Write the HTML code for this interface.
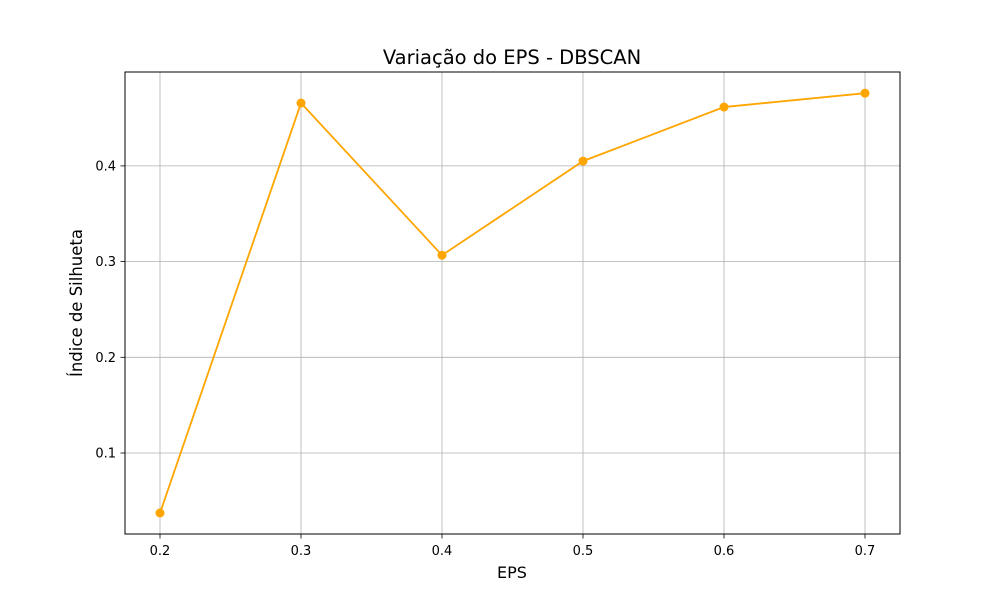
<!DOCTYPE html>
<html><head><meta charset="utf-8"><style>body{margin:0;background:#fff}svg text{font-family:"DejaVu Sans","Liberation Sans",sans-serif}</style></head>
<body>
<svg id="chart" width="1000" height="600">
<rect width="1000" height="600" fill="#fff"/>
<g id="grid"></g>
<g id="ticks"></g>
<g id="series"></g>
<rect x="125" y="72" width="775" height="462" fill="none" stroke="#000" stroke-width="1"/>
<text x="512" y="64" font-size="19.5" text-anchor="middle">Variação do EPS - DBSCAN</text>
<text x="512" y="578" font-size="16" text-anchor="middle">EPS</text>
<text x="82" y="303" font-size="16.5" text-anchor="middle" transform="rotate(-90 82 303)">Índice de Silhueta</text>
</svg>
<script>
const epsValues=[0.2,0.3,0.4,0.5,0.6,0.7];
const silhouette=[0.0373,0.4657,0.3067,0.405,0.4615,0.476];
const xTicks=[0.2,0.3,0.4,0.5,0.6,0.7];
const yTicks=[0.1,0.2,0.3,0.4];
const NS='http://www.w3.org/2000/svg';
function xs(v){return 160+(v-0.2)*1410;}
function ys(v){return 548.7-v*957;}
function mk(tag,attrs,parent){const e=document.createElementNS(NS,tag);for(const k in attrs)e.setAttribute(k,attrs[k]);document.getElementById(parent).appendChild(e);return e;}
xTicks.forEach(t=>{
 const x=xs(t);
 const g=mk('line',{x1:x,x2:x,y1:72,y2:534,stroke:'#b0b0b0','stroke-width':0.8},'grid');
 
 
 const tk=mk('line',{x1:x,x2:x,y1:534,y2:538.5,stroke:'#000','stroke-width':0.8},'ticks');
 
 
 const tx=mk('text',{x:x,y:555,'font-size':13,'text-anchor':'middle'},'ticks');
 tx.textContent=t.toFixed(1);
 
 
});
yTicks.forEach(t=>{
 const y=ys(t);
 const g=mk('line',{x1:125,x2:900,y1:y,y2:y,stroke:'#b0b0b0','stroke-width':0.8},'grid');
 
 
 const tk=mk('line',{x1:120.5,x2:125,y1:y,y2:y,stroke:'#000','stroke-width':0.8},'ticks');
 
 
 const tx=mk('text',{x:116,y:y+4.5,'font-size':13,'text-anchor':'end'},'ticks');
 tx.textContent=t.toFixed(1);
 
 
});
const pts=epsValues.map((v,i)=>xs(v)+','+ys(silhouette[i])).join(' ');
const line=mk('polyline',{points:pts,fill:'none',stroke:'#ffa500','stroke-width':1.8},'series');


epsValues.forEach((v,i)=>{
 const c=mk('circle',{cx:xs(v),cy:ys(silhouette[i]),r:4.5,fill:'#ffa500'},'series');
 
 
});
</script>
</body></html>
